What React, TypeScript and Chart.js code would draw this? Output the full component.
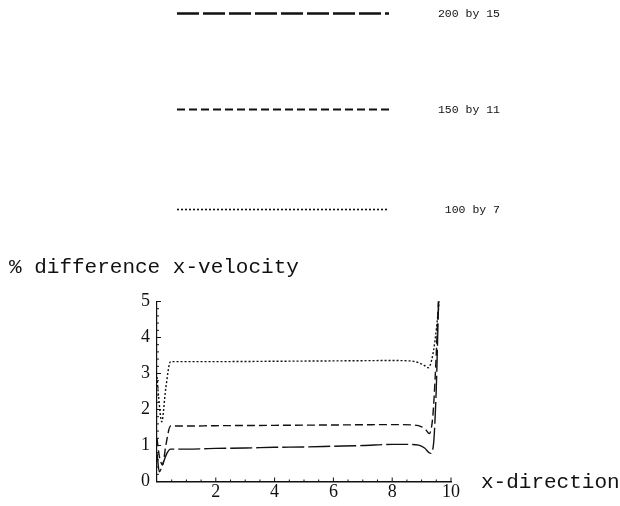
import React, { useEffect, useRef } from "react";
import { Chart, registerables } from "chart.js";

Chart.register(...registerables);

// Series: 200 by 15 (long dashes)
const fineX = [0, 0.08, 0.2, 0.35, 0.46, 1, 2, 3, 4, 5, 6, 7, 8, 8.6, 8.9, 9.1, 9.3, 9.4, 9.5, 9.58, 9.65];
const fineY = [0.78, 0.27, 0.5, 0.8, 0.9, 0.9, 0.92, 0.93, 0.95, 0.96, 0.98, 1.0, 1.03, 1.03, 1.01, 0.93, 0.78, 1.0, 2.6, 5.0, 6.0];

// Series: 150 by 11 (dashes)
const midX = [0, 0.08, 0.19, 0.3, 0.46, 1, 2, 4, 6, 8, 8.7, 9.0, 9.15, 9.26, 9.38, 9.48, 9.56, 9.62];
const midY = [1.2, 0.7, 0.46, 1.0, 1.54, 1.54, 1.55, 1.56, 1.57, 1.58, 1.57, 1.52, 1.43, 1.33, 1.8, 3.2, 4.8, 6.0];

// Series: 100 by 7 (dots)
const coarseX = [0, 0.05, 0.16, 0.3, 0.46, 1, 2, 4, 6, 8, 8.6, 8.9, 9.1, 9.23, 9.35, 9.46, 9.55, 9.62];
const coarseY = [2.9, 2.4, 1.66, 2.6, 3.33, 3.33, 3.33, 3.34, 3.35, 3.36, 3.35, 3.3, 3.22, 3.16, 3.4, 3.94, 4.6, 5.2];

const seriesLabels = ["200 by 15", "150 by 11", "100 by 7"];
const xTicks = [2, 4, 6, 8, 10];
const yTicks = [0, 1, 2, 3, 4, 5];
const yTitle = "% difference x-velocity";
const xTitle = "x-direction";

const toPts = (xs: number[], ys: number[]) => xs.map((x, i) => ({ x, y: ys[i] }));

const dashes = [[22, 4], [8, 4], [2, 2]];
const legendWidths = [2.6, 1.8, 1.6];
const legendY = [13.5, 109.5, 209.5];

const legendAndTitles = {
  id: "legendAndTitles",
  afterDraw(chart: any) {
    const ctx = chart.ctx;
    ctx.save();
    ctx.strokeStyle = "#111";
    ctx.fillStyle = "#111";
    // legend
    chart.data.datasets.forEach((ds: any, i: number) => {
      ctx.save();
      ctx.lineWidth = legendWidths[i];
      ctx.setLineDash(ds.borderDash);
      ctx.beginPath();
      ctx.moveTo(177, legendY[i]);
      ctx.lineTo(389, legendY[i]);
      ctx.stroke();
      ctx.restore();
      ctx.font = "11.5px 'Liberation Mono'";
      ctx.textAlign = "right";
      ctx.textBaseline = "middle";
      ctx.fillText(ds.label, 500, legendY[i]);
    });
    // titles
    ctx.font = "21px 'Liberation Mono'";
    ctx.textAlign = "left";
    ctx.textBaseline = "middle";
    ctx.fillText(yTitle, 9, 267);
    ctx.fillText(xTitle, 481, 482);
    // inward ticks
    const xs = chart.scales.x;
    const ys = chart.scales.y;
    const area = chart.chartArea;
    ctx.lineWidth = 1;
    ctx.beginPath();
    for (let k = 1; k <= 20; k++) {
      const v = k * 0.5;
      const px = xs.getPixelForValue(v);
      const len = k % 4 === 0 ? 4 : 2;
      ctx.moveTo(px, area.bottom);
      ctx.lineTo(px, area.bottom - len);
    }
    for (let k = 1; k <= 25; k++) {
      const v = k * 0.2;
      const py = ys.getPixelForValue(v);
      const len = k % 5 === 0 ? 4 : 2;
      ctx.moveTo(area.left, py);
      ctx.lineTo(area.left + len, py);
    }
    ctx.stroke();
    ctx.restore();
  },
};

export default function App() {
  const ref = useRef<HTMLCanvasElement>(null);
  useEffect(() => {
    if (!ref.current) return;
    const common = {
      borderColor: "#111",
      borderWidth: 1.4,
      pointRadius: 0,
      fill: false,
      cubicInterpolationMode: "monotone" as const,
    };
    const chart = new Chart(ref.current, {
      type: "line",
      data: {
        datasets: [
          { ...common, label: seriesLabels[0], data: toPts(fineX, fineY), borderDash: dashes[0] },
          { ...common, label: seriesLabels[1], data: toPts(midX, midY), borderDash: dashes[1] },
          { ...common, label: seriesLabels[2], data: toPts(coarseX, coarseY), borderDash: dashes[2] },
        ],
      },
      options: {
        responsive: false,
        animation: false,
        devicePixelRatio: 1,
        layout: { padding: { top: 301.5, right: 169, left: 0, bottom: 0 } },
        plugins: { legend: { display: false }, tooltip: { enabled: false }, title: { display: false } },
        scales: {
          x: {
            type: "linear",
            min: 0,
            max: 10,
            grid: { display: false, drawTicks: false },
            border: { display: true, color: "#111", width: 1.5 },
            afterFit: (s: any) => { s.height = 24.5; },
            afterBuildTicks: (s: any) => { s.ticks = xTicks.map((v) => ({ value: v })); },
            ticks: {
              color: "#111",
              padding: 0,
              maxRotation: 0,
              autoSkip: false,
              font: { family: "'Liberation Serif'", size: 18 },
            },
          },
          y: {
            type: "linear",
            min: 0,
            max: 5,
            grid: { display: false, drawTicks: false },
            border: { display: true, color: "#111", width: 1.2 },
            afterFit: (s: any) => { s.width = 157; },
            afterBuildTicks: (s: any) => { s.ticks = yTicks.map((v) => ({ value: v })); },
            ticks: {
              color: "#111",
              padding: 7,
              autoSkip: false,
              font: { family: "'Liberation Serif'", size: 18 },
            },
          },
        },
      },
      plugins: [legendAndTitles],
    });
    return () => chart.destroy();
  }, []);
  return (
    <div style={{ position: "absolute", left: 0, top: 0, width: 620, height: 506, background: "#fff" }}>
      <canvas ref={ref} width={620} height={506} />
    </div>
  );
}
